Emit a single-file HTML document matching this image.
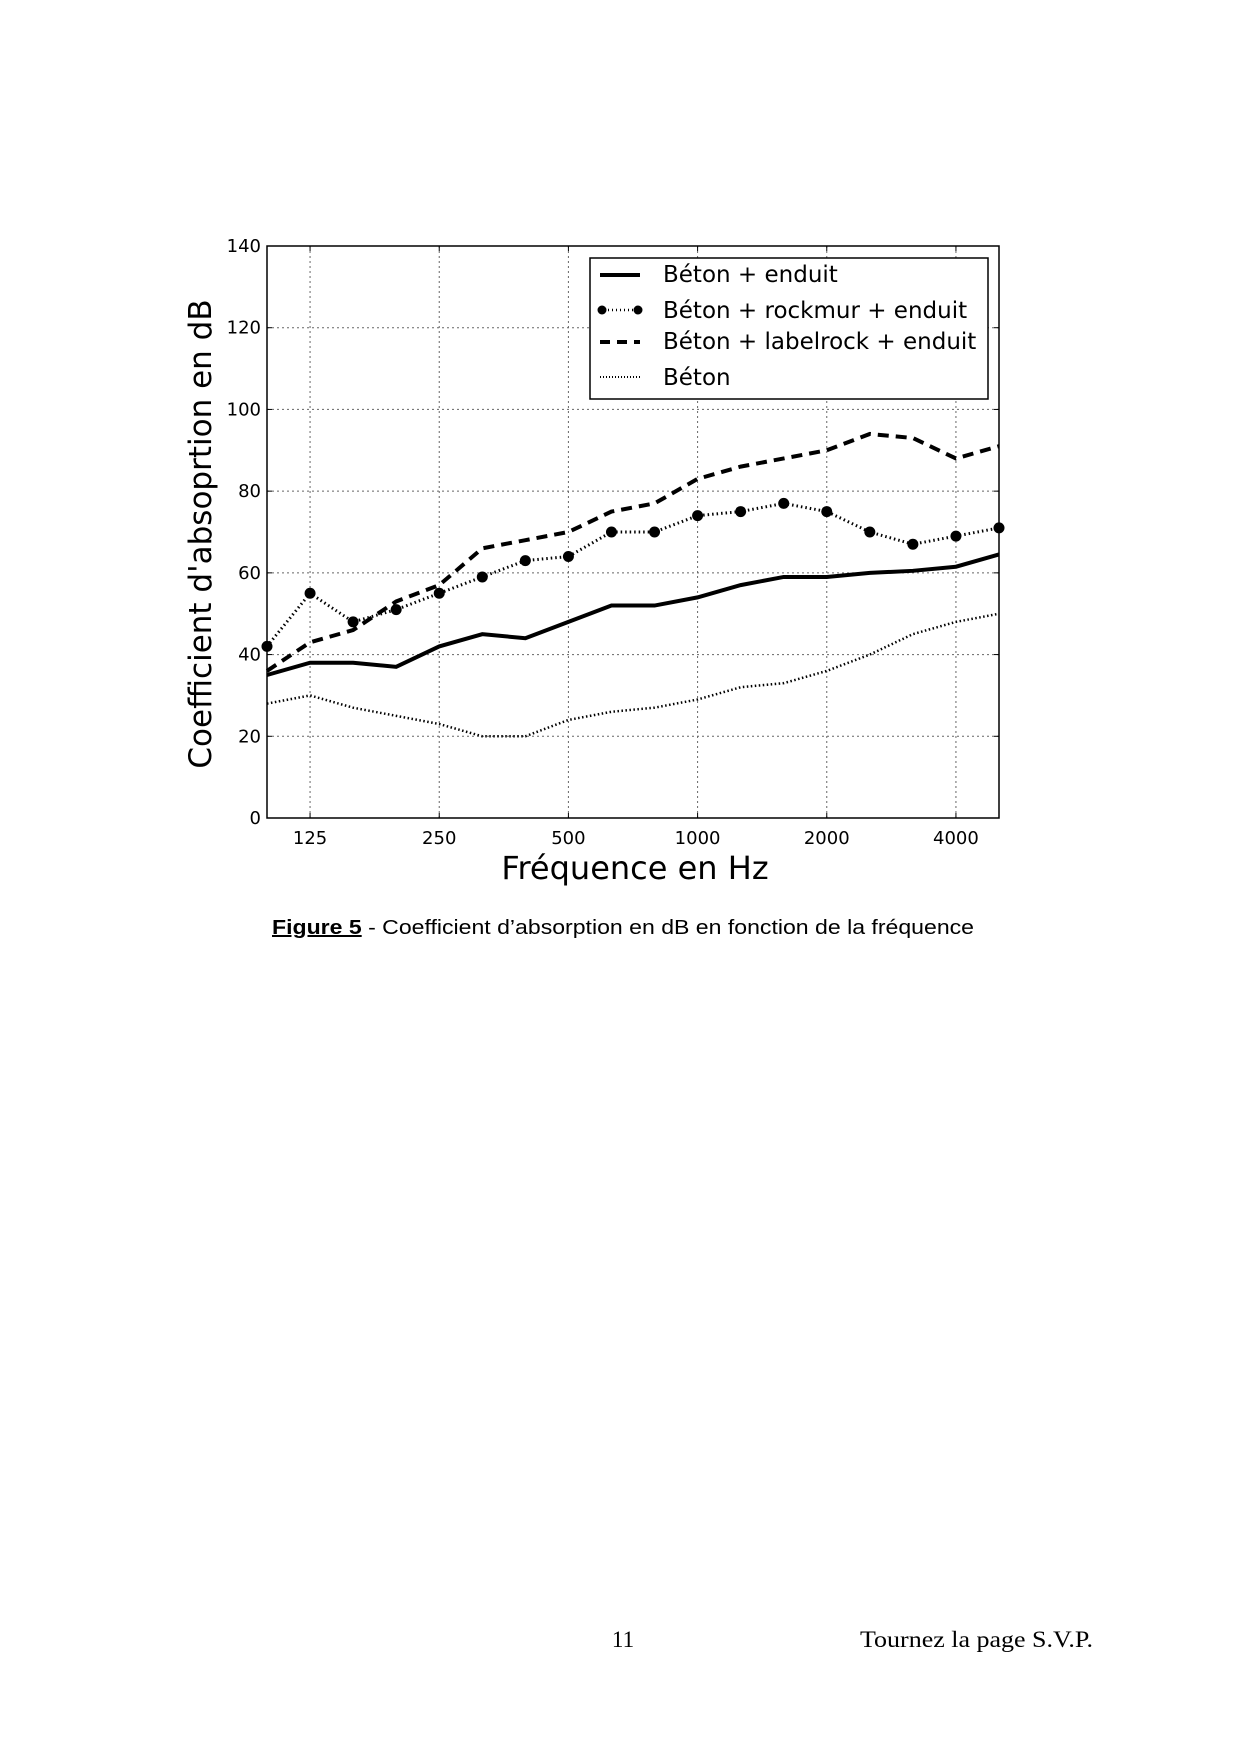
<!DOCTYPE html>
<html><head><meta charset="utf-8"><style>
html,body{margin:0;padding:0;background:#fff;}
svg{display:block;}
</style></head><body>
<svg id="s" width="1240" height="1754" viewBox="0 0 1240 1754" xmlns="http://www.w3.org/2000/svg">
<rect width="1240" height="1754" fill="#fff"/>
<g id="grid" stroke="#666" stroke-width="1" stroke-dasharray="2,3"></g>
<g id="series"></g>
<rect x="267" y="246" width="732" height="572" fill="none" stroke="#000" stroke-width="1.5"/>
<g id="ticks" font-family="'DejaVu Sans',sans-serif" font-size="18" fill="#000"></g>
<rect x="590" y="258" width="398" height="141" fill="#fff" stroke="#000" stroke-width="1.5"/>
<g font-family="'DejaVu Sans',sans-serif" font-size="23" fill="#000">
<text x="663" y="282">Béton + enduit</text>
<text x="663" y="318">Béton + rockmur + enduit</text>
<text x="663" y="349">Béton + labelrock + enduit</text>
<text x="663" y="385">Béton</text>
</g>
<line x1="600" y1="275" x2="640" y2="275" stroke="#000" stroke-width="4"/>
<line x1="604" y1="310" x2="638" y2="310" stroke="#000" stroke-width="2.5" stroke-dasharray="1,3"/>
<circle cx="602" cy="310" r="4.5"/><circle cx="638" cy="310" r="4.5"/>
<line x1="600" y1="342" x2="640" y2="342" stroke="#000" stroke-width="4" stroke-dasharray="10,7"/>
<line x1="600" y1="377" x2="640" y2="377" stroke="#000" stroke-width="2" stroke-dasharray="1,2"/>
<text x="0" y="0" transform="translate(211,534) rotate(-90)" text-anchor="middle" font-family="'DejaVu Sans',sans-serif" font-size="31">Coefficient d'absoprtion en dB</text>
<text x="635" y="879" text-anchor="middle" font-family="'DejaVu Sans',sans-serif" font-size="32">Fréquence en Hz</text>
<text x="272" y="934" font-family="'Liberation Sans',sans-serif" font-size="20" textLength="702" lengthAdjust="spacingAndGlyphs"><tspan font-weight="bold" text-decoration="underline">Figure 5</tspan> - Coefficient d’absorption en dB en fonction de la fréquence</text>
<text x="623" y="1647" text-anchor="middle" font-family="'Liberation Serif',serif" font-size="23">11</text>
<text x="860" y="1647" font-family="'Liberation Serif',serif" font-size="23" textLength="233" lengthAdjust="spacingAndGlyphs">Tournez la page S.V.P.</text>
</svg>
<script>
var NS="http://www.w3.org/2000/svg";
var L=267,R=999,T=246,B=818;
function X(i){return L+i*(R-L)/17;}
function Y(v){return B-v*(B-T)/140;}
function el(n,a,p){var e=document.createElementNS(NS,n);for(var k in a)e.setAttribute(k,a[k]);p.appendChild(e);return e;}
var g=document.getElementById('grid'),tk=document.getElementById('ticks'),sr=document.getElementById('series');
var labs=['125','250','500','1000','2000','4000'];
for(var j=0;j<6;j++){var x=X(1+3*j);
 el('line',{x1:x,y1:T,x2:x,y2:B},g);
 el('line',{x1:x,y1:B,x2:x,y2:B-5,stroke:'#000'},tk);
 el('line',{x1:x,y1:T,x2:x,y2:T+5,stroke:'#000'},tk);
 el('text',{x:x,y:B+26,'text-anchor':'middle'},tk).textContent=labs[j];}
for(var v=0;v<=140;v+=20){var y=Y(v);
 if(v>0&&v<140)el('line',{x1:L,y1:y,x2:R,y2:y},g);
 el('line',{x1:L,y1:y,x2:L+5,y2:y,stroke:'#000'},tk);
 el('line',{x1:R,y1:y,x2:R-5,y2:y,stroke:'#000'},tk);
 el('text',{x:L-6,y:y+6,'text-anchor':'end'},tk).textContent=v;}
var S1=[35,38,38,37,42,45,44,48,52,52,54,57,59,59,60,60.5,61.5,64.5];
var S2=[42,55,48,51,55,59,63,64,70,70,74,75,77,75,70,67,69,71];
var S3=[36,43,46,53,57,66,68,70,75,77,83,86,88,90,94,93,88,91];
var S4=[28,30,27,25,23,20,20,24,26,27,29,32,33,36,40,45,48,50];
function pts(s){return s.map(function(v,i){return X(i)+','+Y(v);}).join(' ');}
el('polyline',{points:pts(S4),fill:'none',stroke:'#000','stroke-width':2.5,'stroke-dasharray':'1.5,2.5'},sr);
el('polyline',{points:pts(S1),fill:'none',stroke:'#000','stroke-width':4},sr);
el('polyline',{points:pts(S3),fill:'none',stroke:'#000','stroke-width':4,'stroke-dasharray':'11,7'},sr);
el('polyline',{points:pts(S2),fill:'none',stroke:'#000','stroke-width':3,'stroke-dasharray':'1.5,3'},sr);
S2.forEach(function(v,i){el('circle',{cx:X(i),cy:Y(v),r:5.5},sr);});
</script>
</body></html>
